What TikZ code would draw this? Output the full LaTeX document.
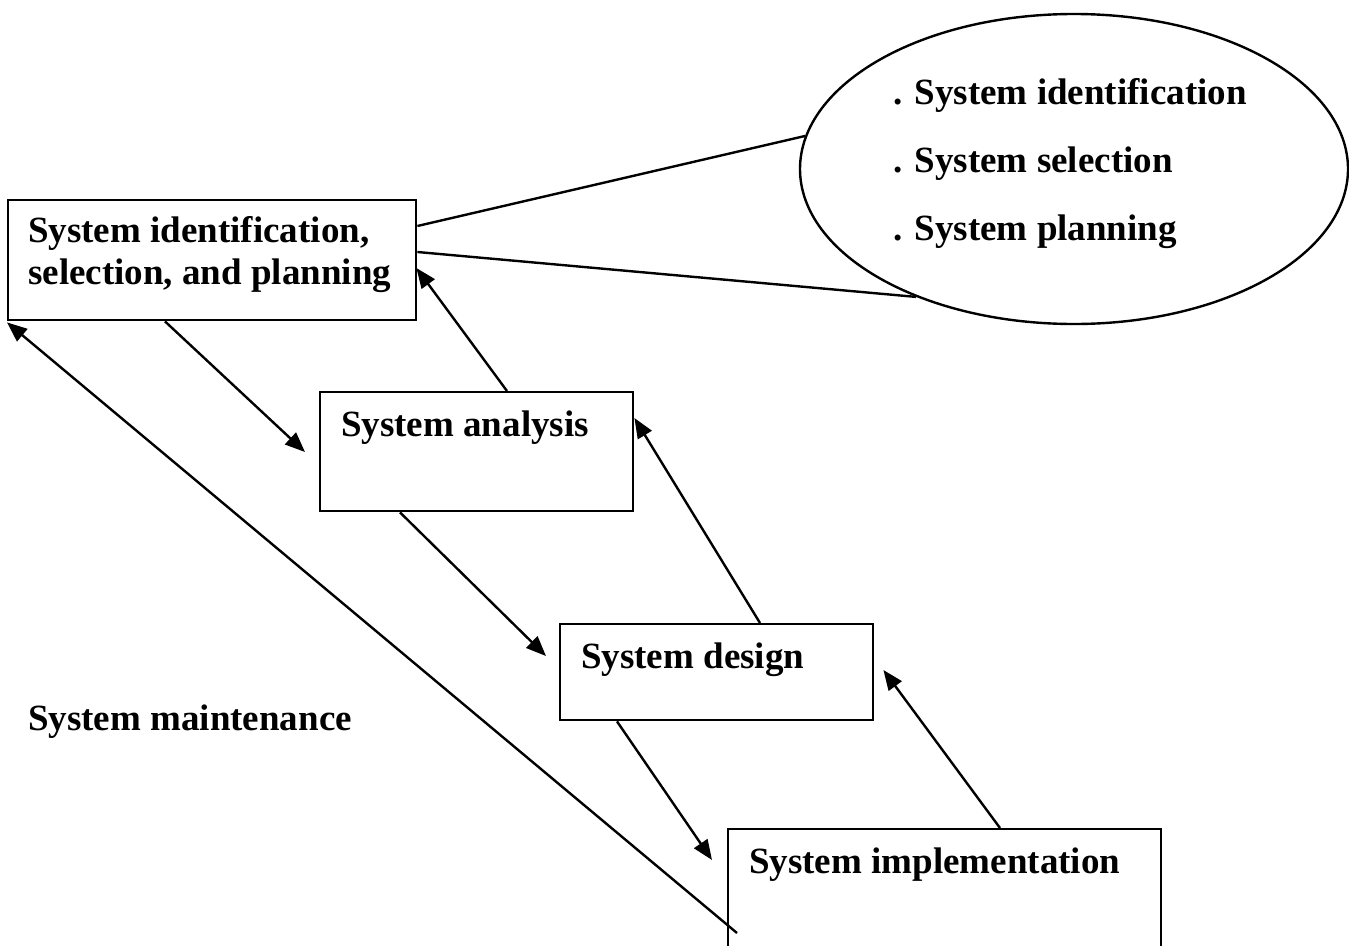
\documentclass[tikz,border=0pt]{standalone}
\usepackage{fontspec}
\setmainfont{Liberation Serif}
\usetikzlibrary{arrows.meta,calc,shapes.geometric}
\begin{document}
\begin{tikzpicture}[x=1pt,y=-1pt,
  stage/.style={draw, line width=2.4pt, rectangle, inner sep=0pt, anchor=north west},
  txt/.style={anchor=base west, inner sep=0pt, font=\fontsize{37}{42}\selectfont\bfseries},
  flow/.style={line width=2.4pt, -{Triangle[length=20pt,width=16pt]}},
  callout/.style={line width=2.4pt}]
\clip (0,0) rectangle (1349,945);
\fill[white] (0,0) rectangle (1349,945);

% stage boxes
\node[stage, minimum width=408pt, minimum height=120pt] (b1) at (7,199) {};
\node[stage, minimum width=313pt, minimum height=119pt] (b2) at (319,391) {};
\node[stage, minimum width=313pt, minimum height=96pt]  (b3) at (559,623) {};
\node[stage, minimum width=433pt, minimum height=160pt] (b4) at (727,828) {};

% stage labels
\node[txt] (t1a) at (28,242) {System identification,};
\node[txt] (t1b) at (28,284) {selection, and planning};
\node[txt] (t2)  at (341,436) {System analysis};
\node[txt] (t3)  at (581,668) {System design};
\node[txt] (t4)  at (749,873) {System implementation};
\node[txt] (t5)  at (28,730) {System maintenance};

% callout bubble with the sub-steps
\node[draw, line width=2.4pt, ellipse, inner sep=0pt,
      minimum width=548pt, minimum height=310pt] (ell) at (1074,169) {};
\node[txt] (e1) at (893,104) {. System identification};
\node[txt] (e2) at (893,172) {. System selection};
\node[txt] (e3) at (893,240) {. System planning};
\draw[callout] ($(b1.north east)+(0,27)$) -- (ell.173);
\draw[callout] ($(b1.north east)+(0,53)$) -- (ell.219.6);

% forward steps down the waterfall
\draw[flow] ($(b1.south west)+(158,0)$) -- ($(b2.north west)+(-14,61)$);
\draw[flow] ($(b2.south west)+(81,0)$)  -- ($(b3.north west)+(-13,33)$);
\draw[flow] ($(b3.south west)+(58,0)$)  -- ($(b4.north west)+(-15,32)$);

% feedback steps back up
\draw[flow] ($(b2.north west)+(188,0)$) -- ($(b1.north east)+(-1,69)$);
\draw[flow] ($(b3.north west)+(201,0)$) -- ($(b2.north east)+(0,27)$);
\draw[flow] ($(b4.north west)+(273,0)$) -- ($(b3.north east)+(9,47)$);

% maintenance loop back to the start
\coordinate (m0) at ($(b4.north west)+(10,105)$);
\draw[flow] (m0) -- ($(b1.south west)+(0,1)$);
\end{tikzpicture}
\end{document}
